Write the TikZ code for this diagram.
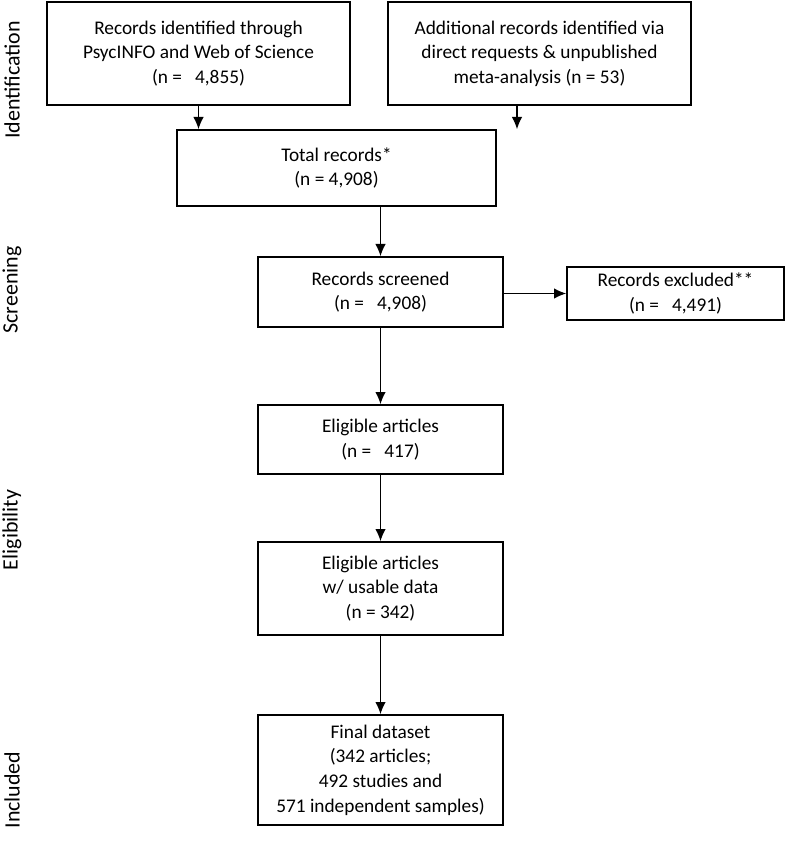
\documentclass[tikz,border=0pt]{standalone}
\usepackage{fontspec}
\setmainfont{Carlito}
\usetikzlibrary{positioning,arrows.meta}

\begin{document}
\begin{tikzpicture}[x=0.02cm, y=-0.02cm,
	box/.style={draw, thick, align=center, inner sep=0pt, font=\fontsize{11}{14}\selectfont},
	stage/.style={rotate=90, font=\fontsize{12.5}{14}\selectfont},
	flow/.style={thick, -{Latex[length=7pt,width=6pt]}}]
	\useasboundingbox (0,0) rectangle (800,841);

	% boxes
	\node[box, minimum width=303*0.02cm, minimum height=103*0.02cm] (ident) at (198.5, 53.5) {Records identified through\\PsycINFO and Web of Science\\(n = \ \ 4,855)};
	\node[box, minimum width=303*0.02cm, minimum height=103*0.02cm] (extra) at (539.5, 53.5) {Additional records identified via\\direct requests \& unpublished\\meta-analysis (n = 53)};
	\node[box, minimum width=319*0.02cm, minimum height=76*0.02cm] (total) at (336.5, 168) {Total records*\\(n = 4,908)};
	\node[box, minimum width=245*0.02cm, minimum height=70*0.02cm] (screen) at (380.5, 292) {Records screened\\(n = \ \ 4,908)};
	\node[box, minimum width=217*0.02cm, minimum height=53*0.02cm] (excl) at (675.5, 293.5) {Records excluded**\\(n = \ \ 4,491)};
	\node[box, minimum width=245*0.02cm, minimum height=69*0.02cm] (elig) at (380.5, 439.5) {Eligible articles\\(n = \ \ 417)};
	\node[box, minimum width=245*0.02cm, minimum height=93*0.02cm] (usable) at (380.5, 588.5) {Eligible articles\\w/ usable data\\(n = 342)};
	\node[box, minimum width=245*0.02cm, minimum height=110*0.02cm] (final) at (380.5, 770) {Final dataset\\(342 articles;\\492 studies and\\571 independent samples)};

	% stage labels
	\node[stage] (lid) at (12, 80) {Identification};
	\node[stage] (lsc) at (12, 290) {Screening};
	\node[stage] (lel) at (12, 530) {Eligibility};
	\node[stage] (lin) at (12, 790) {Included};

	% connectors
	\coordinate (xa) at (517, 105);
	\draw[flow] (ident.south) -- (ident.south |- total.north);
	\draw[flow] (xa) -- (xa |- total.north);
	\draw[flow] (total.south -| screen.north) -- (screen.north);
	\draw[flow] (screen.east |- excl.west) -- (excl.west);
	\draw[flow] (screen) -- (elig);
	\draw[flow] (elig) -- (usable);
	\draw[flow] (usable) -- (final);
\end{tikzpicture}
\end{document}
